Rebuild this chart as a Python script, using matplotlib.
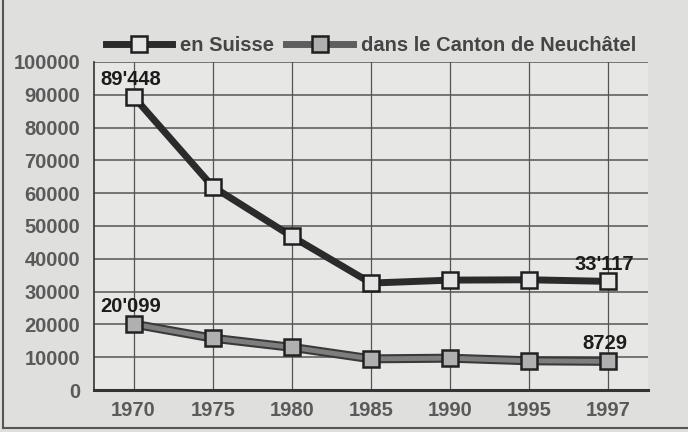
import numpy as np
import matplotlib
matplotlib.use('Agg')
import matplotlib.pyplot as plt
from matplotlib.lines import Line2D

# donnees
annees = ['1970', '1975', '1980', '1985', '1990', '1995', '1997']
suisse = [89448, 62000, 46800, 32600, 33500, 33600, 33117]
neuchatel = [20099, 15800, 13000, 9500, 9700, 8900, 8729]
etiquettes_suisse = {0: "89'448", 6: "33'117"}
etiquettes_neuchatel = {0: "20'099", 6: "8729"}
yticks = list(range(0, 100001, 10000))

plt.rcParams['font.family'] = ['Liberation Sans', 'DejaVu Sans']
plt.rcParams['font.weight'] = 'bold'

fond = '#dfdfdd'
taille = 14.5
fig = plt.figure(figsize=(6.88, 4.32), dpi=100, facecolor=fond)
ax = fig.add_axes([94/688, 42/432, 554/688, 328/432])
ax.set_facecolor('#e7e7e5')

x = np.arange(len(annees))

# grille
for yv in yticks[1:]:
    ax.axhline(yv, color='#555555', lw=1.1, zorder=1)
for xv in x:
    ax.axvline(xv, color='#555555', lw=0.9, zorder=1)

# courbe Neuchatel (trait gris borde de noir)
ax.plot(x, neuchatel, color='#3a3a3a', lw=6.5, zorder=2, solid_capstyle='butt')
ax.plot(x, neuchatel, color='#7e7e7e', lw=3.5, zorder=3, solid_capstyle='butt')
ax.plot(x, neuchatel, ls='none', marker='s', ms=12, mfc='#b0b0b0',
        mec='#222222', mew=1.8, zorder=4)

# courbe Suisse
ax.plot(x, suisse, color='#2b2b2b', lw=5, zorder=2, solid_capstyle='butt')
ax.plot(x, suisse, ls='none', marker='s', ms=12, mfc='#e4e4e4',
        mec='#1e1e1e', mew=1.8, zorder=4)

for serie, etiquettes in ((suisse, etiquettes_suisse), (neuchatel, etiquettes_neuchatel)):
    for i, txt in etiquettes.items():
        ha = 'left' if i == 0 else 'center'
        dx = -0.42 if i == 0 else -0.05
        ax.text(x[i] + dx, serie[i] + 2400, txt, ha=ha, va='bottom',
                fontsize=taille, fontweight='bold', color='#1c1c1c', zorder=5)

ax.set_xlim(-0.5, len(annees) - 0.5)
ax.set_ylim(0, 100000)
ax.set_xticks(x)
ax.set_xticklabels(annees)
ax.set_yticks(yticks)
ax.set_yticklabels([str(v) for v in yticks])
ax.tick_params(axis='both', length=0, labelsize=taille, labelcolor='#5a5a5a')
ax.tick_params(axis='x', pad=8)
ax.tick_params(axis='y', pad=10)
for lab in ax.get_xticklabels() + ax.get_yticklabels():
    lab.set_fontweight('bold')

ax.spines['top'].set_visible(False)
ax.spines['right'].set_visible(False)
ax.spines['left'].set_color('#333333')
ax.spines['left'].set_linewidth(1.2)
ax.spines['bottom'].set_color('#333333')
ax.spines['bottom'].set_linewidth(2.2)

# legende
h1 = Line2D([], [], color='#2b2b2b', lw=5, marker='s', ms=12,
            mfc='#e4e4e4', mec='#1e1e1e', mew=1.8)
h2 = Line2D([], [], color='#5e5e5e', lw=5, marker='s', ms=12,
            mfc='#b0b0b0', mec='#1e1e1e', mew=1.8)
leg = ax.legend([h1, h2], ['en Suisse', 'dans le Canton de Neuchâtel'],
                loc='lower center', bbox_to_anchor=(0.5, 0.99), ncol=2,
                frameon=False, handlelength=3.3, handletextpad=0.4,
                columnspacing=0.6, borderaxespad=0.1,
                prop={'size': taille, 'weight': 'bold'})
for t in leg.get_texts():
    t.set_color('#454545')

# bords de la coupure (gauche et bas)
fig.add_artist(Line2D([3/688, 3/688], [4/432, 1.0], transform=fig.transFigure,
                      color='#555555', lw=1.5))
fig.add_artist(Line2D([3/688, 1.0], [4/432, 4/432], transform=fig.transFigure,
                      color='#555555', lw=1.5))

fig.savefig('out.png', dpi=100, facecolor=fond)
